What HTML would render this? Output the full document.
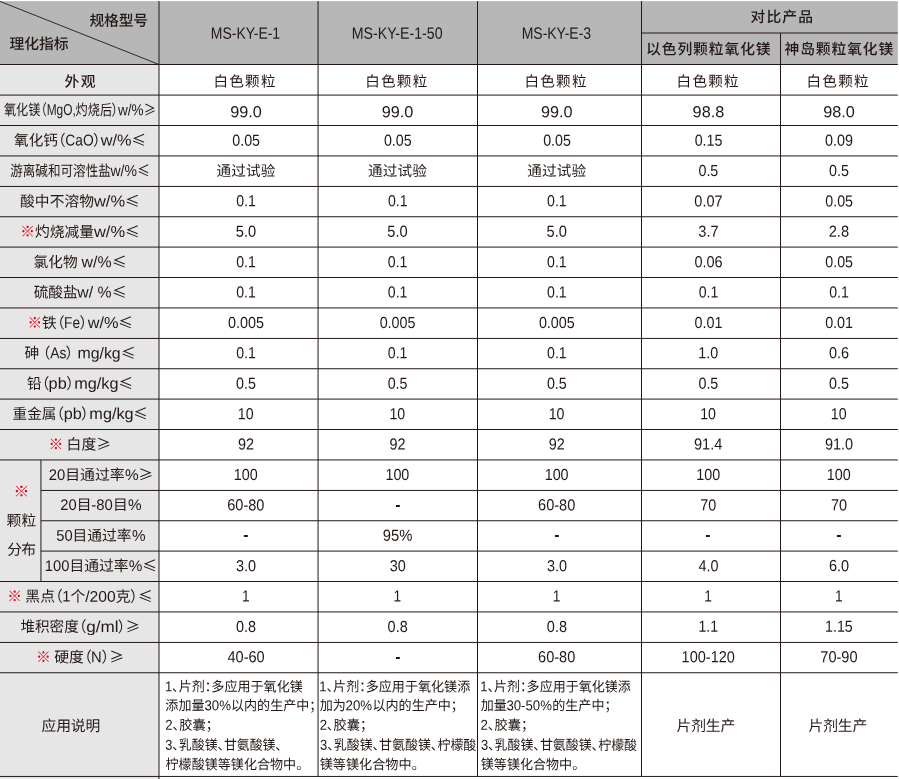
<!DOCTYPE html>
<html lang="zh-CN">
<head>
<meta charset="utf-8">
<title>产品规格对比表</title>
<style>
*{margin:0;padding:0;box-sizing:border-box}
html,body{width:899px;height:779px;background:#fff;overflow:hidden}
body{position:relative;font-family:"Liberation Sans","Noto Sans CJK SC",sans-serif;color:#231815}
#tbl{position:absolute;left:0;top:0;width:899px;height:779px;overflow:hidden}
#grid{position:absolute;left:0;top:0}
.t{position:absolute;white-space:pre;line-height:1;transform-origin:0 50%;font-feature-settings:"palt"}
.e{display:inline-block;transform-origin:0 100%;line-height:1}
.c{font-family:"Noto Sans CJK SC",sans-serif}
.r{color:#e60012}
</style>
</head>
<body>
<div id="tbl">
<svg id="grid" width="899" height="779" viewBox="0 0 899 779">
<rect x="0" y="1.15" width="897.8" height="63.35" fill="#b7b7b7"/>
<rect x="0" y="64.5" width="159.0" height="715.50" fill="#e6e6e6"/>
<g stroke="#231815">
<line x1="0.00" y1="64.50" x2="897.80" y2="64.50" stroke-width="1.0"/>
<line x1="0.00" y1="95.08" x2="897.80" y2="95.08" stroke-width="1.0"/>
<line x1="0.00" y1="125.50" x2="897.80" y2="125.50" stroke-width="1.0"/>
<line x1="0.00" y1="155.95" x2="897.80" y2="155.95" stroke-width="1.0"/>
<line x1="0.00" y1="186.45" x2="897.80" y2="186.45" stroke-width="1.0"/>
<line x1="0.00" y1="216.75" x2="897.80" y2="216.75" stroke-width="1.0"/>
<line x1="0.00" y1="247.08" x2="897.80" y2="247.08" stroke-width="1.0"/>
<line x1="0.00" y1="277.50" x2="897.80" y2="277.50" stroke-width="1.0"/>
<line x1="0.00" y1="307.95" x2="897.80" y2="307.95" stroke-width="1.0"/>
<line x1="0.00" y1="338.45" x2="897.80" y2="338.45" stroke-width="1.0"/>
<line x1="0.00" y1="368.75" x2="897.80" y2="368.75" stroke-width="1.0"/>
<line x1="0.00" y1="399.08" x2="897.80" y2="399.08" stroke-width="1.0"/>
<line x1="0.00" y1="429.50" x2="897.80" y2="429.50" stroke-width="1.0"/>
<line x1="0.00" y1="459.95" x2="897.80" y2="459.95" stroke-width="1.0"/>
<line x1="40.95" y1="490.45" x2="897.80" y2="490.45" stroke-width="1.0"/>
<line x1="40.95" y1="520.75" x2="897.80" y2="520.75" stroke-width="1.0"/>
<line x1="40.95" y1="551.08" x2="897.80" y2="551.08" stroke-width="1.0"/>
<line x1="0.00" y1="581.50" x2="897.80" y2="581.50" stroke-width="1.0"/>
<line x1="0.00" y1="611.95" x2="897.80" y2="611.95" stroke-width="1.0"/>
<line x1="0.00" y1="642.45" x2="897.80" y2="642.45" stroke-width="1.0"/>
<line x1="0.00" y1="672.75" x2="897.80" y2="672.75" stroke-width="1.0"/>
<line x1="0.00" y1="776.45" x2="897.80" y2="776.45" stroke-width="1.0"/>
<line x1="641.50" y1="33.00" x2="897.80" y2="33.00" stroke-width="1.0"/>
<line x1="159.00" y1="1.15" x2="159.00" y2="779.00" stroke-width="1.0"/>
<line x1="318.05" y1="1.15" x2="318.05" y2="776.45" stroke-width="1.0"/>
<line x1="477.50" y1="1.15" x2="477.50" y2="776.45" stroke-width="1.0"/>
<line x1="641.50" y1="1.15" x2="641.50" y2="776.45" stroke-width="1.0"/>
<line x1="780.50" y1="33.00" x2="780.50" y2="776.45" stroke-width="1.0"/>
<line x1="40.95" y1="459.95" x2="40.95" y2="581.50" stroke-width="1.0"/>
<line x1="0.00" y1="1.40" x2="159.00" y2="64.50" stroke-width="0.9"/>
</g>
</svg>
<div class="t" id="h_spec" style='left:89px;top:13px;font-size:14.8px;font-weight:500;letter-spacing:-0.183px;transform:translate(0.45px,0.82px) rotate(0.05deg);'>规格型号</div>
<div class="t" id="h_idx" style='left:9px;top:37px;font-size:14.8px;font-weight:500;letter-spacing:-0.067px;transform:translate(0.55px,0.03px) rotate(0.05deg);'>理化指标</div>
<div class="t" id="h1" style='left:210px;top:24px;font-size:15.4px;transform:translate(0.87px,0.67px) rotate(0.05deg) scaleX(0.9587);'><span class="e" style="font-size:1.065em;transform:scaleX(0.8877);margin-right:-0.5577em">MS-KY-E-1</span></div>
<div class="t" id="h2" style='left:351px;top:24px;font-size:15.4px;transform:translate(0.78px,0.68px) rotate(0.05deg) scaleX(0.9596);'><span class="e" style="font-size:1.065em;transform:scaleX(0.9009);margin-right:-0.6350em">MS-KY-E-1-50</span></div>
<div class="t" id="h3" style='left:521px;top:24px;font-size:15.4px;transform:translate(0.67px,0.67px) rotate(0.05deg) scaleX(0.9609);'><span class="e" style="font-size:1.065em;transform:scaleX(0.8877);margin-right:-0.5577em">MS-KY-E-3</span></div>
<div class="t" id="h45" style='left:750px;top:9px;font-size:14.8px;font-weight:500;letter-spacing:1.133px;transform:translate(0.49px,0.98px) rotate(0.05deg);'>对比产品</div>
<div class="t" id="h4" style='left:646px;top:42px;font-size:14.8px;font-weight:500;letter-spacing:0.886px;transform:translate(0.04px,0.14px) rotate(0.05deg);'>以色列颗粒氧化镁</div>
<div class="t" id="h5" style='left:784px;top:42px;font-size:14.8px;font-weight:500;letter-spacing:0.858px;transform:translate(0.55px,0.26px) rotate(0.05deg);'>神岛颗粒氧化镁</div>
<div class="t" id="l1" style='left:64px;top:74px;font-size:14.8px;font-weight:500;letter-spacing:1.300px;transform:translate(0.55px,0.65px) rotate(0.05deg);'>外观</div>
<div class="t" id="l2" style='left:3px;top:102px;font-size:14.8px;transform:translate(0.98px,0.05px) rotate(0.05deg) scaleX(0.8208);'>氧化镁<span class="p">（</span><span class="e" style="font-size:1.065em;transform:scaleX(0.9202);margin-right:-0.1950em">MgO,</span>灼烧后<span class="p">）</span><span class="e" style="font-size:1.07em;transform:scaleX(1.0423);margin-right:0.0800em">w/%</span><span class="c">≥</span></div>
<div class="t" id="l3" style='left:14px;top:132px;font-size:14.8px;transform:translate(0.08px,0.46px) rotate(0.05deg) scaleX(0.9859);'>氧化钙<span class="p">（</span><span class="e" style="font-size:1.065em;transform:scaleX(0.8873);margin-right:-0.2317em">CaO</span><span class="p">）</span><span class="e" style="font-size:1.07em;transform:scaleX(1.0423);margin-right:0.0800em">w/%</span><span class="c">≤</span></div>
<div class="t" id="l4" style='left:10px;top:162px;font-size:14.8px;transform:translate(0.21px,0.96px) rotate(0.05deg) scaleX(0.8498);'>游离碱和可溶性盐<span class="e" style="font-size:1.07em;transform:scaleX(1.0423);margin-right:0.0800em">w/%</span><span class="c">≤</span></div>
<div class="t" id="l5" style='left:20px;top:193px;font-size:14.8px;transform:translate(0.12px,0.42px) rotate(0.05deg) scaleX(0.9974);'>酸中不溶物<span class="e" style="font-size:1.07em;transform:scaleX(1.0423);margin-right:0.0800em">w/%</span><span class="c">≤</span></div>
<div class="t" id="l6" style='left:20px;top:223px;font-size:14.8px;transform:translate(0.17px,0.85px) rotate(0.05deg) scaleX(0.9970);'><span class="r">※</span>灼烧减量<span class="e" style="font-size:1.07em;transform:scaleX(1.0423);margin-right:0.0800em">w/%</span><span class="c">≤</span></div>
<div class="t" id="l7" style='left:33px;top:254px;font-size:14.8px;transform:translate(0.46px,0.19px) rotate(0.05deg) scaleX(0.9945);'>氯化物<span class="e" style="font-size:1.07em;transform:scaleX(1.0053);margin-right:0.0116em"> w/%</span><span class="c">≤</span></div>
<div class="t" id="l8" style='left:33px;top:284px;font-size:14.8px;transform:translate(0.70px,0.55px) rotate(0.05deg) scaleX(0.9918);'>硫酸盐<span class="e" style="font-size:1.07em;transform:scaleX(1.0053);margin-right:0.0116em">w/ %</span><span class="c">≤</span></div>
<div class="t" id="l9" style='left:27px;top:314px;font-size:14.8px;transform:translate(0.48px,0.89px) rotate(0.05deg) scaleX(0.9883);'><span class="r">※</span>铁<span class="p">（</span><span class="e" style="font-size:1.065em;transform:scaleX(0.8779);margin-right:-0.1425em">Fe</span><span class="p">）</span><span class="e" style="font-size:1.07em;transform:scaleX(1.0423);margin-right:0.0800em">w/%</span><span class="c">≤</span></div>
<div class="t" id="l10" style='left:24px;top:345px;font-size:14.8px;transform:translate(0.55px,0.32px) rotate(0.05deg) scaleX(0.9882);'>砷<span class="e" style="font-size:1.04em;transform:scaleX(0.7751);margin-right:-0.0625em"> </span><span class="p">（</span><span class="e" style="font-size:1.065em;transform:scaleX(0.8867);margin-right:-0.1323em">As</span><span class="p">）</span><span class="e" style="font-size:1.07em;transform:scaleX(1.0165);margin-right:0.0494em"> mg/kg</span><span class="c">≤</span></div>
<div class="t" id="l11" style='left:26px;top:375px;font-size:14.8px;transform:translate(0.93px,0.64px) rotate(0.05deg) scaleX(0.9853);'>铅<span class="p">（</span><span class="e" style="font-size:1.07em;transform:scaleX(1.0403);margin-right:0.0448em">pb</span><span class="p">）</span><span class="e" style="font-size:1.07em;transform:scaleX(1.0433);margin-right:0.1178em">mg/kg</span><span class="c">≤</span></div>
<div class="t" id="l12" style='left:12px;top:405px;font-size:14.8px;transform:translate(0.56px,0.98px) rotate(0.05deg) scaleX(0.9848);'>重金属<span class="p">（</span><span class="e" style="font-size:1.07em;transform:scaleX(1.0403);margin-right:0.0448em">pb</span><span class="p">）</span><span class="e" style="font-size:1.07em;transform:scaleX(1.0433);margin-right:0.1178em">mg/kg</span><span class="c">≤</span></div>
<div class="t" id="l13" style='left:48px;top:436px;font-size:14.8px;transform:translate(0.47px,0.46px) rotate(0.05deg);'><span class="r">※</span><span class="e" style="font-size:1.04em;transform:scaleX(0.7751);margin-right:-0.0625em"> </span>白度<span class="c">≥</span></div>
<div class="t" id="l14" style='left:48px;top:466px;font-size:14.8px;transform:translate(0.71px,0.92px) rotate(0.05deg) scaleX(1.0044);'><span class="e" style="font-size:1.04em;transform:scaleX(0.9595);margin-right:-0.0450em">20</span>目通过率<span class="e" style="font-size:1.04em;transform:scaleX(0.9960);margin-right:-0.0036em">%</span><span class="c">≥</span></div>
<div class="t" id="l15" style='left:60px;top:496px;font-size:14.8px;transform:translate(0.31px,0.91px) rotate(0.05deg) scaleX(0.9969);'><span class="e" style="font-size:1.04em;transform:scaleX(0.9595);margin-right:-0.0450em">20</span>目<span class="e" style="font-size:1.04em;transform:scaleX(0.9693);margin-right:-0.0443em">-80</span>目<span class="e" style="font-size:1.04em;transform:scaleX(0.9960);margin-right:-0.0036em">%</span></div>
<div class="t" id="l16" style='left:56px;top:527px;font-size:14.8px;transform:translate(0.22px,0.71px) rotate(0.05deg) scaleX(0.9972);'><span class="e" style="font-size:1.04em;transform:scaleX(0.9595);margin-right:-0.0450em">50</span>目通过率<span class="e" style="font-size:1.04em;transform:scaleX(0.9960);margin-right:-0.0036em">%</span></div>
<div class="t" id="l17" style='left:44px;top:557px;font-size:14.8px;transform:translate(0.78px,1.00px) rotate(0.05deg) scaleX(1.0009);'><span class="e" style="font-size:1.04em;transform:scaleX(0.9595);margin-right:-0.0676em">100</span>目通过率<span class="e" style="font-size:1.04em;transform:scaleX(0.9960);margin-right:-0.0036em">%</span><span class="c">≤</span></div>
<div class="t" id="l18" style='left:7px;top:588px;font-size:14.8px;transform:translate(0.23px,0.56px) rotate(0.05deg) scaleX(0.9996);'><span class="r">※</span><span class="e" style="font-size:1.04em;transform:scaleX(0.7751);margin-right:-0.0625em"> </span>黑点<span class="p">（</span><span class="e" style="font-size:1.04em;transform:scaleX(0.9594);margin-right:-0.0226em">1</span>个<span class="e" style="font-size:1.04em;transform:scaleX(1.0162);margin-right:0.0315em">/200</span>克<span class="p">）</span><span class="c">≤</span></div>
<div class="t" id="l19" style='left:20px;top:618px;font-size:14.8px;transform:translate(0.48px,0.83px) rotate(0.05deg) scaleX(0.9833);'>堆积密度<span class="p">（</span><span class="e" style="font-size:1.07em;transform:scaleX(1.0978);margin-right:0.1847em">g/ml</span><span class="p">）</span><span class="c">≥</span></div>
<div class="t" id="l20" style='left:35px;top:649px;font-size:14.8px;transform:translate(0.98px,0.24px) rotate(0.05deg) scaleX(1.0018);'><span class="r">※</span><span class="e" style="font-size:1.04em;transform:scaleX(0.7751);margin-right:-0.0625em"> </span>硬度<span class="p">（</span><span class="e" style="font-size:1.065em;transform:scaleX(0.9402);margin-right:-0.0432em">N</span><span class="p">）</span><span class="c">≥</span></div>
<div class="t" id="l21" style='left:41px;top:719px;font-size:14.8px;letter-spacing:-0.117px;transform:translate(0.51px,0.05px) rotate(0.05deg);'>应用说明</div>
<div class="t" id="p_mark" style='left:13px;top:484px;font-size:14.8px;transform:translate(0.41px,0.83px) rotate(0.05deg) scaleX(1.0746);'><span class="r">※</span></div>
<div class="t" id="p_kl" style='left:6px;top:513px;font-size:14.8px;letter-spacing:0.250px;transform:translate(0.49px,0.83px) rotate(0.05deg);'>颗粒</div>
<div class="t" id="p_fb" style='left:7px;top:542px;font-size:14.8px;letter-spacing:-0.850px;transform:translate(0.29px,0.80px) rotate(0.05deg);'>分布</div>
<div class="t" id="d1_0" style='left:213px;top:74px;font-size:14.6px;letter-spacing:1.250px;transform:translate(0.42px,0.55px) rotate(0.05deg);'>白色颗粒</div>
<div class="t" id="d1_1" style='left:365px;top:74px;font-size:14.6px;letter-spacing:1.250px;transform:translate(0.17px,0.55px) rotate(0.05deg);'>白色颗粒</div>
<div class="t" id="d1_2" style='left:524px;top:74px;font-size:14.6px;letter-spacing:1.250px;transform:translate(0.42px,0.55px) rotate(0.05deg);'>白色颗粒</div>
<div class="t" id="d1_3" style='left:676px;top:74px;font-size:14.6px;letter-spacing:1.250px;transform:translate(0.59px,0.55px) rotate(0.05deg);'>白色颗粒</div>
<div class="t" id="d1_4" style='left:806px;top:74px;font-size:14.6px;letter-spacing:1.250px;transform:translate(0.52px,0.55px) rotate(0.05deg);'>白色颗粒</div>
<div class="t" id="d2_0" style='left:230px;top:104px;font-size:15.4px;transform:translate(0.16px,0.16px) rotate(0.05deg) scaleX(1.0574);'><span class="e" style="font-size:1.04em;transform:scaleX(0.9599);margin-right:-0.0780em">99.0</span></div>
<div class="t" id="d2_1" style='left:381px;top:104px;font-size:15.4px;transform:translate(0.76px,0.13px) rotate(0.05deg) scaleX(1.0574);'><span class="e" style="font-size:1.04em;transform:scaleX(0.9599);margin-right:-0.0780em">99.0</span></div>
<div class="t" id="d2_2" style='left:541px;top:104px;font-size:15.4px;transform:translate(0.01px,0.13px) rotate(0.05deg) scaleX(1.0574);'><span class="e" style="font-size:1.04em;transform:scaleX(0.9599);margin-right:-0.0780em">99.0</span></div>
<div class="t" id="d2_3" style='left:692px;top:104px;font-size:15.4px;transform:translate(0.60px,0.16px) rotate(0.05deg) scaleX(1.0574);'><span class="e" style="font-size:1.04em;transform:scaleX(0.9599);margin-right:-0.0780em">98.8</span></div>
<div class="t" id="d2_4" style='left:823px;top:104px;font-size:15.4px;transform:translate(0.17px,0.16px) rotate(0.05deg) scaleX(1.0574);'><span class="e" style="font-size:1.04em;transform:scaleX(0.9599);margin-right:-0.0780em">98.0</span></div>
<div class="t" id="d3_0" style='left:232px;top:132px;font-size:15.4px;transform:translate(0.30px,0.68px) rotate(0.05deg) scaleX(0.9267);'><span class="e" style="font-size:1.04em;transform:scaleX(0.9599);margin-right:-0.0780em">0.05</span></div>
<div class="t" id="d3_1" style='left:383px;top:132px;font-size:15.4px;transform:translate(0.90px,0.68px) rotate(0.05deg) scaleX(0.9267);'><span class="e" style="font-size:1.04em;transform:scaleX(0.9599);margin-right:-0.0780em">0.05</span></div>
<div class="t" id="d3_2" style='left:543px;top:132px;font-size:15.4px;transform:translate(0.15px,0.68px) rotate(0.05deg) scaleX(0.9267);'><span class="e" style="font-size:1.04em;transform:scaleX(0.9599);margin-right:-0.0780em">0.05</span></div>
<div class="t" id="d3_3" style='left:694px;top:132px;font-size:15.4px;transform:translate(0.68px,0.63px) rotate(0.05deg) scaleX(0.9267);'><span class="e" style="font-size:1.04em;transform:scaleX(0.9599);margin-right:-0.0780em">0.15</span></div>
<div class="t" id="d3_4" style='left:825px;top:132px;font-size:15.4px;transform:translate(0.10px,0.67px) rotate(0.05deg) scaleX(0.9354);'><span class="e" style="font-size:1.04em;transform:scaleX(0.9599);margin-right:-0.0780em">0.09</span></div>
<div class="t" id="d4_0" style='left:216px;top:164px;font-size:14.6px;letter-spacing:0.150px;transform:translate(0.53px,0.06px) rotate(0.05deg);'>通过试验</div>
<div class="t" id="d4_1" style='left:367px;top:164px;font-size:14.6px;letter-spacing:0.150px;transform:translate(0.98px,0.06px) rotate(0.05deg);'>通过试验</div>
<div class="t" id="d4_2" style='left:527px;top:164px;font-size:14.6px;letter-spacing:0.150px;transform:translate(0.23px,0.06px) rotate(0.05deg);'>通过试验</div>
<div class="t" id="d4_3" style='left:698px;top:163px;font-size:15.4px;transform:translate(0.45px,0.00px) rotate(0.05deg) scaleX(0.9298);'><span class="e" style="font-size:1.04em;transform:scaleX(0.9601);margin-right:-0.0554em">0.5</span></div>
<div class="t" id="d4_4" style='left:829px;top:163px;font-size:15.4px;transform:translate(0.05px,0.00px) rotate(0.05deg) scaleX(0.9298);'><span class="e" style="font-size:1.04em;transform:scaleX(0.9601);margin-right:-0.0554em">0.5</span></div>
<div class="t" id="d5_0" style='left:236px;top:193px;font-size:15.4px;transform:translate(0.26px,0.28px) rotate(0.05deg) scaleX(0.9178);'><span class="e" style="font-size:1.04em;transform:scaleX(0.9601);margin-right:-0.0554em">0.1</span></div>
<div class="t" id="d5_1" style='left:387px;top:193px;font-size:15.4px;transform:translate(0.92px,0.28px) rotate(0.05deg) scaleX(0.9178);'><span class="e" style="font-size:1.04em;transform:scaleX(0.9601);margin-right:-0.0554em">0.1</span></div>
<div class="t" id="d5_2" style='left:547px;top:193px;font-size:15.4px;transform:translate(0.11px,0.28px) rotate(0.05deg) scaleX(0.9178);'><span class="e" style="font-size:1.04em;transform:scaleX(0.9601);margin-right:-0.0554em">0.1</span></div>
<div class="t" id="d5_3" style='left:694px;top:193px;font-size:15.4px;transform:translate(0.34px,0.42px) rotate(0.05deg) scaleX(0.9432);'><span class="e" style="font-size:1.04em;transform:scaleX(0.9599);margin-right:-0.0780em">0.07</span></div>
<div class="t" id="d5_4" style='left:825px;top:193px;font-size:15.4px;transform:translate(0.30px,0.42px) rotate(0.05deg) scaleX(0.9267);'><span class="e" style="font-size:1.04em;transform:scaleX(0.9599);margin-right:-0.0780em">0.05</span></div>
<div class="t" id="d6_0" style='left:235px;top:223px;font-size:15.4px;transform:translate(0.75px,0.80px) rotate(0.05deg) scaleX(0.9526);'><span class="e" style="font-size:1.04em;transform:scaleX(0.9601);margin-right:-0.0554em">5.0</span></div>
<div class="t" id="d6_1" style='left:387px;top:223px;font-size:15.4px;transform:translate(0.35px,0.80px) rotate(0.05deg) scaleX(0.9526);'><span class="e" style="font-size:1.04em;transform:scaleX(0.9601);margin-right:-0.0554em">5.0</span></div>
<div class="t" id="d6_2" style='left:546px;top:223px;font-size:15.4px;transform:translate(0.60px,0.80px) rotate(0.05deg) scaleX(0.9526);'><span class="e" style="font-size:1.04em;transform:scaleX(0.9601);margin-right:-0.0554em">5.0</span></div>
<div class="t" id="d6_3" style='left:698px;top:223px;font-size:15.4px;transform:translate(0.33px,0.77px) rotate(0.05deg) scaleX(0.9508);'><span class="e" style="font-size:1.04em;transform:scaleX(0.9601);margin-right:-0.0554em">3.7</span></div>
<div class="t" id="d6_4" style='left:828px;top:223px;font-size:15.4px;transform:translate(0.73px,0.81px) rotate(0.05deg) scaleX(0.9526);'><span class="e" style="font-size:1.04em;transform:scaleX(0.9601);margin-right:-0.0554em">2.8</span></div>
<div class="t" id="d7_0" style='left:236px;top:254px;font-size:15.4px;transform:translate(0.26px,0.15px) rotate(0.05deg) scaleX(0.9178);'><span class="e" style="font-size:1.04em;transform:scaleX(0.9601);margin-right:-0.0554em">0.1</span></div>
<div class="t" id="d7_1" style='left:387px;top:254px;font-size:15.4px;transform:translate(0.86px,0.15px) rotate(0.05deg) scaleX(0.9178);'><span class="e" style="font-size:1.04em;transform:scaleX(0.9601);margin-right:-0.0554em">0.1</span></div>
<div class="t" id="d7_2" style='left:547px;top:254px;font-size:15.4px;transform:translate(0.11px,0.15px) rotate(0.05deg) scaleX(0.9178);'><span class="e" style="font-size:1.04em;transform:scaleX(0.9601);margin-right:-0.0554em">0.1</span></div>
<div class="t" id="d7_3" style='left:694px;top:254px;font-size:15.4px;transform:translate(0.40px,0.18px) rotate(0.05deg) scaleX(0.9432);'><span class="e" style="font-size:1.04em;transform:scaleX(0.9599);margin-right:-0.0780em">0.06</span></div>
<div class="t" id="d7_4" style='left:825px;top:254px;font-size:15.4px;transform:translate(0.30px,0.21px) rotate(0.05deg) scaleX(0.9267);'><span class="e" style="font-size:1.04em;transform:scaleX(0.9599);margin-right:-0.0780em">0.05</span></div>
<div class="t" id="d8_0" style='left:236px;top:284px;font-size:15.4px;transform:translate(0.26px,0.55px) rotate(0.05deg) scaleX(0.9178);'><span class="e" style="font-size:1.04em;transform:scaleX(0.9601);margin-right:-0.0554em">0.1</span></div>
<div class="t" id="d8_1" style='left:387px;top:284px;font-size:15.4px;transform:translate(0.81px,0.55px) rotate(0.05deg) scaleX(0.9178);'><span class="e" style="font-size:1.04em;transform:scaleX(0.9601);margin-right:-0.0554em">0.1</span></div>
<div class="t" id="d8_2" style='left:547px;top:284px;font-size:15.4px;transform:translate(0.11px,0.55px) rotate(0.05deg) scaleX(0.9178);'><span class="e" style="font-size:1.04em;transform:scaleX(0.9601);margin-right:-0.0554em">0.1</span></div>
<div class="t" id="d8_3" style='left:698px;top:284px;font-size:15.4px;transform:translate(0.66px,0.55px) rotate(0.05deg) scaleX(0.9178);'><span class="e" style="font-size:1.04em;transform:scaleX(0.9601);margin-right:-0.0554em">0.1</span></div>
<div class="t" id="d8_4" style='left:829px;top:284px;font-size:15.4px;transform:translate(0.26px,0.55px) rotate(0.05deg) scaleX(0.9178);'><span class="e" style="font-size:1.04em;transform:scaleX(0.9601);margin-right:-0.0554em">0.1</span></div>
<div class="t" id="d9_0" style='left:228px;top:315px;font-size:15.4px;transform:translate(0.07px,0.01px) rotate(0.05deg) scaleX(0.9317);'><span class="e" style="font-size:1.04em;transform:scaleX(0.9599);margin-right:-0.1005em">0.005</span></div>
<div class="t" id="d9_1" style='left:379px;top:315px;font-size:15.4px;transform:translate(0.67px,0.01px) rotate(0.05deg) scaleX(0.9317);'><span class="e" style="font-size:1.04em;transform:scaleX(0.9599);margin-right:-0.1005em">0.005</span></div>
<div class="t" id="d9_2" style='left:538px;top:315px;font-size:15.4px;transform:translate(0.92px,0.01px) rotate(0.05deg) scaleX(0.9317);'><span class="e" style="font-size:1.04em;transform:scaleX(0.9599);margin-right:-0.1005em">0.005</span></div>
<div class="t" id="d9_3" style='left:694px;top:314px;font-size:15.4px;transform:translate(0.53px,0.97px) rotate(0.05deg) scaleX(0.9354);'><span class="e" style="font-size:1.04em;transform:scaleX(0.9599);margin-right:-0.0780em">0.01</span></div>
<div class="t" id="d9_4" style='left:825px;top:314px;font-size:15.4px;transform:translate(0.13px,0.97px) rotate(0.05deg) scaleX(0.9354);'><span class="e" style="font-size:1.04em;transform:scaleX(0.9599);margin-right:-0.0780em">0.01</span></div>
<div class="t" id="d10_0" style='left:236px;top:345px;font-size:15.4px;transform:translate(0.26px,0.34px) rotate(0.05deg) scaleX(0.9178);'><span class="e" style="font-size:1.04em;transform:scaleX(0.9601);margin-right:-0.0554em">0.1</span></div>
<div class="t" id="d10_1" style='left:387px;top:345px;font-size:15.4px;transform:translate(0.81px,0.34px) rotate(0.05deg) scaleX(0.9178);'><span class="e" style="font-size:1.04em;transform:scaleX(0.9601);margin-right:-0.0554em">0.1</span></div>
<div class="t" id="d10_2" style='left:547px;top:345px;font-size:15.4px;transform:translate(0.11px,0.34px) rotate(0.05deg) scaleX(0.9178);'><span class="e" style="font-size:1.04em;transform:scaleX(0.9601);margin-right:-0.0554em">0.1</span></div>
<div class="t" id="d10_3" style='left:698px;top:345px;font-size:15.4px;transform:translate(0.25px,0.35px) rotate(0.05deg) scaleX(0.9299);'><span class="e" style="font-size:1.04em;transform:scaleX(0.9601);margin-right:-0.0554em">1.0</span></div>
<div class="t" id="d10_4" style='left:829px;top:345px;font-size:15.4px;transform:translate(0.02px,0.35px) rotate(0.05deg) scaleX(0.9408);'><span class="e" style="font-size:1.04em;transform:scaleX(0.9601);margin-right:-0.0554em">0.6</span></div>
<div class="t" id="d11_0" style='left:236px;top:375px;font-size:15.4px;transform:translate(0.05px,0.77px) rotate(0.05deg) scaleX(0.9298);'><span class="e" style="font-size:1.04em;transform:scaleX(0.9601);margin-right:-0.0554em">0.5</span></div>
<div class="t" id="d11_1" style='left:387px;top:375px;font-size:15.4px;transform:translate(0.65px,0.77px) rotate(0.05deg) scaleX(0.9298);'><span class="e" style="font-size:1.04em;transform:scaleX(0.9601);margin-right:-0.0554em">0.5</span></div>
<div class="t" id="d11_2" style='left:546px;top:375px;font-size:15.4px;transform:translate(0.90px,0.77px) rotate(0.05deg) scaleX(0.9298);'><span class="e" style="font-size:1.04em;transform:scaleX(0.9601);margin-right:-0.0554em">0.5</span></div>
<div class="t" id="d11_3" style='left:698px;top:375px;font-size:15.4px;transform:translate(0.45px,0.77px) rotate(0.05deg) scaleX(0.9298);'><span class="e" style="font-size:1.04em;transform:scaleX(0.9601);margin-right:-0.0554em">0.5</span></div>
<div class="t" id="d11_4" style='left:829px;top:375px;font-size:15.4px;transform:translate(0.05px,0.77px) rotate(0.05deg) scaleX(0.9298);'><span class="e" style="font-size:1.04em;transform:scaleX(0.9601);margin-right:-0.0554em">0.5</span></div>
<div class="t" id="d12_0" style='left:237px;top:406px;font-size:15.4px;transform:translate(0.80px,0.13px) rotate(0.05deg) scaleX(0.9246);'><span class="e" style="font-size:1.04em;transform:scaleX(0.9595);margin-right:-0.0450em">10</span></div>
<div class="t" id="d12_1" style='left:389px;top:406px;font-size:15.4px;transform:translate(0.40px,0.13px) rotate(0.05deg) scaleX(0.9246);'><span class="e" style="font-size:1.04em;transform:scaleX(0.9595);margin-right:-0.0450em">10</span></div>
<div class="t" id="d12_2" style='left:548px;top:406px;font-size:15.4px;transform:translate(0.65px,0.13px) rotate(0.05deg) scaleX(0.9246);'><span class="e" style="font-size:1.04em;transform:scaleX(0.9595);margin-right:-0.0450em">10</span></div>
<div class="t" id="d12_3" style='left:700px;top:406px;font-size:15.4px;transform:translate(0.20px,0.13px) rotate(0.05deg) scaleX(0.9246);'><span class="e" style="font-size:1.04em;transform:scaleX(0.9595);margin-right:-0.0450em">10</span></div>
<div class="t" id="d12_4" style='left:830px;top:406px;font-size:15.4px;transform:translate(0.80px,0.13px) rotate(0.05deg) scaleX(0.9246);'><span class="e" style="font-size:1.04em;transform:scaleX(0.9595);margin-right:-0.0450em">10</span></div>
<div class="t" id="d13_0" style='left:237px;top:436px;font-size:15.4px;transform:translate(0.93px,0.53px) rotate(0.05deg) scaleX(0.9384);'><span class="e" style="font-size:1.04em;transform:scaleX(0.9595);margin-right:-0.0450em">92</span></div>
<div class="t" id="d13_1" style='left:389px;top:436px;font-size:15.4px;transform:translate(0.53px,0.53px) rotate(0.05deg) scaleX(0.9384);'><span class="e" style="font-size:1.04em;transform:scaleX(0.9595);margin-right:-0.0450em">92</span></div>
<div class="t" id="d13_2" style='left:548px;top:436px;font-size:15.4px;transform:translate(0.78px,0.53px) rotate(0.05deg) scaleX(0.9384);'><span class="e" style="font-size:1.04em;transform:scaleX(0.9595);margin-right:-0.0450em">92</span></div>
<div class="t" id="d13_3" style='left:693px;top:436px;font-size:15.4px;transform:translate(0.97px,0.49px) rotate(0.05deg) scaleX(0.9509);'><span class="e" style="font-size:1.04em;transform:scaleX(0.9599);margin-right:-0.0780em">91.4</span></div>
<div class="t" id="d13_4" style='left:824px;top:436px;font-size:15.4px;transform:translate(0.93px,0.52px) rotate(0.05deg) scaleX(0.9426);'><span class="e" style="font-size:1.04em;transform:scaleX(0.9599);margin-right:-0.0780em">91.0</span></div>
<div class="t" id="d14_0" style='left:233px;top:466px;font-size:15.4px;transform:translate(0.83px,0.95px) rotate(0.05deg) scaleX(0.9333);'><span class="e" style="font-size:1.04em;transform:scaleX(0.9595);margin-right:-0.0676em">100</span></div>
<div class="t" id="d14_1" style='left:385px;top:466px;font-size:15.4px;transform:translate(0.43px,0.95px) rotate(0.05deg) scaleX(0.9333);'><span class="e" style="font-size:1.04em;transform:scaleX(0.9595);margin-right:-0.0676em">100</span></div>
<div class="t" id="d14_2" style='left:544px;top:466px;font-size:15.4px;transform:translate(0.68px,0.95px) rotate(0.05deg) scaleX(0.9333);'><span class="e" style="font-size:1.04em;transform:scaleX(0.9595);margin-right:-0.0676em">100</span></div>
<div class="t" id="d14_3" style='left:696px;top:466px;font-size:15.4px;transform:translate(0.23px,0.95px) rotate(0.05deg) scaleX(0.9333);'><span class="e" style="font-size:1.04em;transform:scaleX(0.9595);margin-right:-0.0676em">100</span></div>
<div class="t" id="d14_4" style='left:826px;top:466px;font-size:15.4px;transform:translate(0.83px,0.95px) rotate(0.05deg) scaleX(0.9333);'><span class="e" style="font-size:1.04em;transform:scaleX(0.9595);margin-right:-0.0676em">100</span></div>
<div class="t" id="d15_0" style='left:227px;top:497px;font-size:15.4px;transform:translate(0.22px,0.36px) rotate(0.05deg) scaleX(0.9426);'><span class="e" style="font-size:1.04em;transform:scaleX(0.9651);margin-right:-0.0894em">60-80</span></div>
<div class="t" id="d15_1" style='left:395px;top:497px;font-size:16.8px;font-weight:700;transform:translate(0.25px,0.26px) rotate(0.05deg) scaleX(0.9412);'>-</div>
<div class="t" id="d15_2" style='left:538px;top:497px;font-size:15.4px;transform:translate(0.07px,0.36px) rotate(0.05deg) scaleX(0.9426);'><span class="e" style="font-size:1.04em;transform:scaleX(0.9651);margin-right:-0.0894em">60-80</span></div>
<div class="t" id="d15_3" style='left:700px;top:497px;font-size:15.4px;transform:translate(0.33px,0.37px) rotate(0.05deg) scaleX(0.9395);'><span class="e" style="font-size:1.04em;transform:scaleX(0.9595);margin-right:-0.0450em">70</span></div>
<div class="t" id="d15_4" style='left:830px;top:497px;font-size:15.4px;transform:translate(0.93px,0.37px) rotate(0.05deg) scaleX(0.9395);'><span class="e" style="font-size:1.04em;transform:scaleX(0.9595);margin-right:-0.0450em">70</span></div>
<div class="t" id="d16_0" style='left:243px;top:527px;font-size:16.8px;font-weight:700;transform:translate(0.25px,0.26px) rotate(0.05deg) scaleX(0.9412);'>-</div>
<div class="t" id="d16_1" style='left:382px;top:527px;font-size:15.4px;transform:translate(0.75px,0.69px) rotate(0.05deg) scaleX(0.9483);'><span class="e" style="font-size:1.04em;transform:scaleX(0.9757);margin-right:-0.0486em">95%</span></div>
<div class="t" id="d16_2" style='left:554px;top:527px;font-size:16.8px;font-weight:700;transform:translate(0.25px,0.26px) rotate(0.05deg) scaleX(0.9412);'>-</div>
<div class="t" id="d16_3" style='left:705px;top:527px;font-size:16.8px;font-weight:700;transform:translate(0.25px,0.26px) rotate(0.05deg) scaleX(0.9412);'>-</div>
<div class="t" id="d16_4" style='left:836px;top:527px;font-size:16.8px;font-weight:700;transform:translate(0.25px,0.26px) rotate(0.05deg) scaleX(0.9412);'>-</div>
<div class="t" id="d17_0" style='left:236px;top:558px;font-size:15.4px;transform:translate(0.04px,0.17px) rotate(0.05deg) scaleX(0.9400);'><span class="e" style="font-size:1.04em;transform:scaleX(0.9601);margin-right:-0.0554em">3.0</span></div>
<div class="t" id="d17_1" style='left:389px;top:558px;font-size:15.4px;transform:translate(0.85px,0.17px) rotate(0.05deg) scaleX(0.9377);'><span class="e" style="font-size:1.04em;transform:scaleX(0.9595);margin-right:-0.0450em">30</span></div>
<div class="t" id="d17_2" style='left:546px;top:558px;font-size:15.4px;transform:translate(0.89px,0.17px) rotate(0.05deg) scaleX(0.9400);'><span class="e" style="font-size:1.04em;transform:scaleX(0.9601);margin-right:-0.0554em">3.0</span></div>
<div class="t" id="d17_3" style='left:698px;top:558px;font-size:15.4px;transform:translate(0.47px,0.16px) rotate(0.05deg) scaleX(0.9402);'><span class="e" style="font-size:1.04em;transform:scaleX(0.9601);margin-right:-0.0554em">4.0</span></div>
<div class="t" id="d17_4" style='left:828px;top:558px;font-size:15.4px;transform:translate(0.89px,0.12px) rotate(0.05deg) scaleX(0.9414);'><span class="e" style="font-size:1.04em;transform:scaleX(0.9601);margin-right:-0.0554em">6.0</span></div>
<div class="t" id="d18_0" style='left:241px;top:588px;font-size:15.4px;transform:translate(0.99px,0.39px) rotate(0.05deg) scaleX(0.8945);'><span class="e" style="font-size:1.04em;transform:scaleX(0.9594);margin-right:-0.0226em">1</span></div>
<div class="t" id="d18_1" style='left:393px;top:588px;font-size:15.4px;transform:translate(0.59px,0.39px) rotate(0.05deg) scaleX(0.8945);'><span class="e" style="font-size:1.04em;transform:scaleX(0.9594);margin-right:-0.0226em">1</span></div>
<div class="t" id="d18_2" style='left:552px;top:588px;font-size:15.4px;transform:translate(0.84px,0.39px) rotate(0.05deg) scaleX(0.8945);'><span class="e" style="font-size:1.04em;transform:scaleX(0.9594);margin-right:-0.0226em">1</span></div>
<div class="t" id="d18_3" style='left:704px;top:588px;font-size:15.4px;transform:translate(0.17px,0.39px) rotate(0.05deg) scaleX(0.8945);'><span class="e" style="font-size:1.04em;transform:scaleX(0.9594);margin-right:-0.0226em">1</span></div>
<div class="t" id="d18_4" style='left:834px;top:588px;font-size:15.4px;transform:translate(0.99px,0.39px) rotate(0.05deg) scaleX(0.8945);'><span class="e" style="font-size:1.04em;transform:scaleX(0.9594);margin-right:-0.0226em">1</span></div>
<div class="t" id="d19_0" style='left:235px;top:618px;font-size:15.4px;transform:translate(1.00px,0.98px) rotate(0.05deg) scaleX(0.9408);'><span class="e" style="font-size:1.04em;transform:scaleX(0.9601);margin-right:-0.0554em">0.8</span></div>
<div class="t" id="d19_1" style='left:387px;top:618px;font-size:15.4px;transform:translate(0.60px,0.98px) rotate(0.05deg) scaleX(0.9408);'><span class="e" style="font-size:1.04em;transform:scaleX(0.9601);margin-right:-0.0554em">0.8</span></div>
<div class="t" id="d19_2" style='left:546px;top:618px;font-size:15.4px;transform:translate(0.85px,0.98px) rotate(0.05deg) scaleX(0.9408);'><span class="e" style="font-size:1.04em;transform:scaleX(0.9601);margin-right:-0.0554em">0.8</span></div>
<div class="t" id="d19_3" style='left:698px;top:618px;font-size:15.4px;transform:translate(0.39px,0.78px) rotate(0.05deg) scaleX(0.9177);'><span class="e" style="font-size:1.04em;transform:scaleX(0.9601);margin-right:-0.0554em">1.1</span></div>
<div class="t" id="d19_4" style='left:825px;top:618px;font-size:15.4px;transform:translate(0.02px,0.71px) rotate(0.05deg) scaleX(0.9268);'><span class="e" style="font-size:1.04em;transform:scaleX(0.9599);margin-right:-0.0780em">1.15</span></div>
<div class="t" id="d20_0" style='left:227px;top:649px;font-size:15.4px;transform:translate(0.46px,0.32px) rotate(0.05deg) scaleX(0.9420);'><span class="e" style="font-size:1.04em;transform:scaleX(0.9651);margin-right:-0.0894em">40-60</span></div>
<div class="t" id="d20_1" style='left:395px;top:649px;font-size:16.8px;font-weight:700;transform:translate(0.25px,0.26px) rotate(0.05deg) scaleX(0.9412);'>-</div>
<div class="t" id="d20_2" style='left:538px;top:649px;font-size:15.4px;transform:translate(0.07px,0.34px) rotate(0.05deg) scaleX(0.9426);'><span class="e" style="font-size:1.04em;transform:scaleX(0.9651);margin-right:-0.0894em">60-80</span></div>
<div class="t" id="d20_3" style='left:681px;top:649px;font-size:15.4px;transform:translate(0.62px,0.34px) rotate(0.05deg) scaleX(0.9407);'><span class="e" style="font-size:1.04em;transform:scaleX(0.9634);margin-right:-0.1344em">100-120</span></div>
<div class="t" id="d20_4" style='left:820px;top:649px;font-size:15.4px;transform:translate(0.31px,0.34px) rotate(0.05deg) scaleX(0.9426);'><span class="e" style="font-size:1.04em;transform:scaleX(0.9651);margin-right:-0.0894em">70-90</span></div>
<div class="t" id="a4" style='left:676px;top:719px;font-size:14.8px;letter-spacing:-0.150px;transform:translate(0.50px,0.01px) rotate(0.05deg);'>片剂生产</div>
<div class="t" id="a5" style='left:808px;top:719px;font-size:14.8px;letter-spacing:-0.150px;transform:translate(0.50px,0.01px) rotate(0.05deg);'>片剂生产</div>
<div class="t" id="a1_0" style='left:164px;top:679px;font-size:13.7px;transform:translate(0.92px,0.31px) rotate(0.05deg) scaleX(0.9542);'><span class="e" style="font-size:1.04em;transform:scaleX(0.9594);margin-right:-0.0226em">1</span>、片剂：多应用于氧化镁</div>
<div class="t" id="a1_1" style='left:165px;top:698px;font-size:13.7px;transform:translate(0.36px,0.25px) rotate(0.05deg) scaleX(0.9532);'>添加量<span class="e" style="font-size:1.04em;transform:scaleX(0.9757);margin-right:-0.0486em">30%</span>以内的生产中；</div>
<div class="t" id="a1_2" style='left:165px;top:717px;font-size:13.7px;transform:translate(0.30px,0.75px) rotate(0.05deg) scaleX(0.9650);'><span class="e" style="font-size:1.04em;transform:scaleX(0.9594);margin-right:-0.0226em">2</span>、胶囊；</div>
<div class="t" id="a1_3" style='left:165px;top:737px;font-size:13.7px;transform:translate(0.28px,0.78px) rotate(0.05deg) scaleX(0.9409);'><span class="e" style="font-size:1.04em;transform:scaleX(0.9594);margin-right:-0.0226em">3</span>、乳酸镁、甘氨酸镁、</div>
<div class="t" id="a1_4" style='left:165px;top:758px;font-size:13.7px;transform:translate(0.57px,0.12px) rotate(0.05deg) scaleX(0.9536);'>柠檬酸镁等镁化合物中。</div>
<div class="t" id="a2_0" style='left:319px;top:679px;font-size:13.7px;transform:translate(0.29px,0.32px) rotate(0.05deg) scaleX(0.9541);'><span class="e" style="font-size:1.04em;transform:scaleX(0.9594);margin-right:-0.0226em">1</span>、片剂：多应用于氧化镁添</div>
<div class="t" id="a2_1" style='left:319px;top:698px;font-size:13.7px;transform:translate(0.81px,0.23px) rotate(0.05deg) scaleX(0.9541);'>加为<span class="e" style="font-size:1.04em;transform:scaleX(0.9757);margin-right:-0.0486em">20%</span>以内的生产中；</div>
<div class="t" id="a2_2" style='left:319px;top:717px;font-size:13.7px;transform:translate(0.65px,0.75px) rotate(0.05deg) scaleX(0.9650);'><span class="e" style="font-size:1.04em;transform:scaleX(0.9594);margin-right:-0.0226em">2</span>、胶囊；</div>
<div class="t" id="a2_3" style='left:320px;top:737px;font-size:13.7px;transform:translate(0.06px,0.75px) rotate(0.05deg) scaleX(0.9470);'><span class="e" style="font-size:1.04em;transform:scaleX(0.9594);margin-right:-0.0226em">3</span>、乳酸镁、甘氨酸镁、柠檬酸</div>
<div class="t" id="a2_4" style='left:319px;top:758px;font-size:13.7px;transform:translate(0.74px,0.12px) rotate(0.05deg) scaleX(0.9581);'>镁等镁化合物中。</div>
<div class="t" id="a3_0" style='left:480px;top:679px;font-size:13.7px;transform:translate(0.30px,0.32px) rotate(0.05deg) scaleX(0.9518);'><span class="e" style="font-size:1.04em;transform:scaleX(0.9594);margin-right:-0.0226em">1</span>、片剂：多应用于氧化镁添</div>
<div class="t" id="a3_1" style='left:480px;top:698px;font-size:13.7px;transform:translate(0.70px,0.26px) rotate(0.05deg) scaleX(0.9526);'>加量<span class="e" style="font-size:1.04em;transform:scaleX(0.9730);margin-right:-0.0929em">30-50%</span>的生产中；</div>
<div class="t" id="a3_2" style='left:480px;top:717px;font-size:13.7px;transform:translate(0.55px,0.74px) rotate(0.05deg) scaleX(0.9661);'><span class="e" style="font-size:1.04em;transform:scaleX(0.9594);margin-right:-0.0226em">2</span>、胶囊；</div>
<div class="t" id="a3_3" style='left:480px;top:737px;font-size:13.7px;transform:translate(0.90px,0.78px) rotate(0.05deg) scaleX(0.9463);'><span class="e" style="font-size:1.04em;transform:scaleX(0.9594);margin-right:-0.0226em">3</span>、乳酸镁、甘氨酸镁、柠檬酸</div>
<div class="t" id="a3_4" style='left:480px;top:758px;font-size:13.7px;transform:translate(0.83px,0.12px) rotate(0.05deg) scaleX(0.9526);'>镁等镁化合物中。</div>
</div>
</body>
</html>
